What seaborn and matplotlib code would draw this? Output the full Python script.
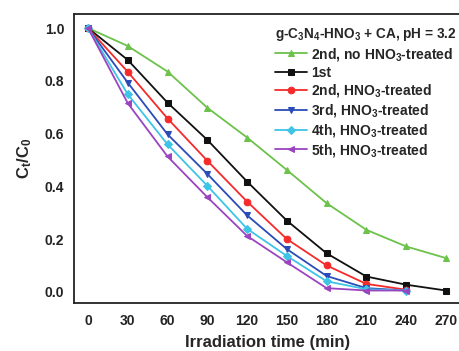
import pandas as pd
import seaborn as sb
from matplotlib import pyplot as plt

# irradiation time (min)
time = [0, 30, 60, 90, 120, 150, 180, 210, 240, 270]
time_short = [0, 30, 60, 90, 120, 150, 180, 210, 240]

# C_t / C_0 readings
no_hno3_2nd = [1.0, 0.932, 0.835, 0.698, 0.585, 0.462, 0.336, 0.235, 0.172, 0.128]
run_1st = [1.0, 0.879, 0.717, 0.576, 0.418, 0.270, 0.146, 0.058, 0.027, 0.005]
hno3_2nd = [1.0, 0.834, 0.657, 0.497, 0.342, 0.200, 0.100, 0.030, 0.008]
hno3_3rd = [1.0, 0.793, 0.597, 0.447, 0.290, 0.162, 0.060, 0.014, 0.005]
hno3_4th = [1.0, 0.749, 0.559, 0.402, 0.239, 0.136, 0.040, 0.010, 0.005]
hno3_5th = [1.0, 0.715, 0.513, 0.359, 0.212, 0.112, 0.014, 0.005, 0.005]

series = [
    ('2nd, no HNO$_3$-treated', time, no_hno3_2nd, '#6cc24a', '^'),
    ('1st', time, run_1st, '#111111', 's'),
    ('2nd, HNO$_3$-treated', time_short, hno3_2nd, '#f52a2a', 'o'),
    ('3rd, HNO$_3$-treated', time_short, hno3_3rd, '#2b4cb8', 'v'),
    ('4th, HNO$_3$-treated', time_short, hno3_4th, '#3ec4e6', 'D'),
    ('5th, HNO$_3$-treated', time_short, hno3_5th, '#9b44c0', '<'),
]

sb.set_style('white')
plt.rcParams['font.family'] = ['Liberation Sans', 'DejaVu Sans']
plt.rcParams['font.weight'] = 'bold'
plt.rcParams['mathtext.fontset'] = 'custom'
plt.rcParams['mathtext.rm'] = 'Liberation Sans:bold'
plt.rcParams['mathtext.it'] = 'Liberation Sans:bold'
plt.rcParams['mathtext.bf'] = 'Liberation Sans:bold'

fig = plt.figure(figsize=(4.6, 3.51), dpi=100)
ax = fig.add_axes([0.161, 0.137, 0.843, 0.823])

for label, x, y, color, marker in series:
    df = pd.DataFrame({'t': x, 'c': y})
    sb.lineplot(data=df, x='t', y='c', ax=ax, color=color, marker=marker,
                markersize=4.8 if marker != 'D' else 4.0, markeredgecolor=color,
                linewidth=1.3, label=label)

ax.set_xlim(-10.5, 282)
ax.set_ylim(-0.042, 1.053)
ax.set_xticks(time)
ax.set_xticks(range(15, 285, 30), minor=True)
ax.set_yticks([0.0, 0.2, 0.4, 0.6, 0.8, 1.0])
ax.set_yticks([0.1, 0.3, 0.5, 0.7, 0.9], minor=True)
ax.tick_params(which='both', direction='in', labelsize=10, width=1, colors='#222222')
ax.tick_params(which='major', length=4)
ax.tick_params(which='minor', length=2.5)
ax.tick_params(axis='x', pad=8)
ax.tick_params(axis='y', pad=7)
for lbl in ax.get_xticklabels() + ax.get_yticklabels():
    lbl.set_fontweight('bold')
for s in ax.spines.values():
    s.set_color('#222222')
    s.set_linewidth(1.3)

ax.set_xlabel('Irradiation time (min)', fontsize=12, fontweight='bold', labelpad=5)
ax.set_ylabel('C$_t$/C$_0$', fontsize=12, fontweight='bold', labelpad=8)

leg = ax.legend(title='g-C$_3$N$_4$-HNO$_3$ + CA, pH = 3.2', frameon=False,
                loc='upper left', bbox_to_anchor=(275 / 460, 1 - 26 / 351),
                bbox_transform=fig.transFigure, fontsize=10, title_fontsize=9.8,
                handlelength=2.3, handletextpad=0.3, labelspacing=0.2,
                borderpad=0, borderaxespad=0)
leg._legend_box.align = 'left'
leg.get_title().set_fontweight('bold')

fig.savefig('out.png', dpi=100)
